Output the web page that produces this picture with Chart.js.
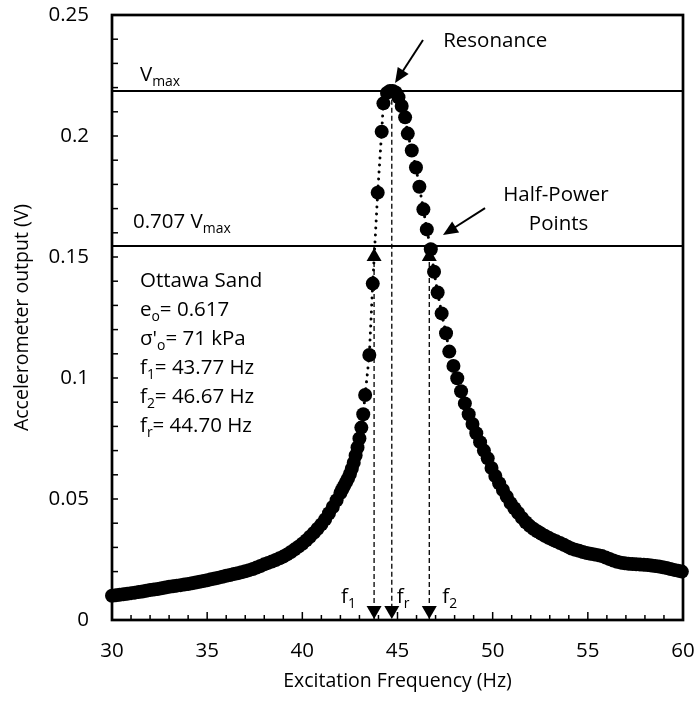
<!DOCTYPE html>
<html lang="en">
<head>
<meta charset="UTF-8">
<title>Resonant column response</title>
<script src="https://cdn.jsdelivr.net/npm/chart.js"></script>
<style>
  body { margin: 0; background: #fff; }
  #wrap { width: 696px; height: 709px; }
</style>
</head>
<body>
<div id="wrap"><canvas id="rcChart" width="696" height="709"></canvas></div>
<script>
// frequency sweep (Hz)
const freq = [
  30.0, 30.2, 30.4, 30.6, 30.8, 31.0, 31.2, 31.4, 31.6, 31.8,
  32.0, 32.2, 32.4, 32.6, 32.8, 33.0, 33.2, 33.4, 33.6, 33.8,
  34.0, 34.2, 34.4, 34.6, 34.8, 35.0, 35.2, 35.4, 35.6, 35.8,
  36.0, 36.2, 36.4, 36.6, 36.8, 37.0, 37.2, 37.4, 37.6, 37.8,
  38.0, 38.2, 38.4, 38.6, 38.8, 39.0, 39.2, 39.4, 39.6, 39.8,
  40.0, 40.2, 40.4, 40.6, 40.8, 41.0, 41.2, 41.4, 41.6, 41.8,
  42.0, 42.1, 42.2, 42.3, 42.4, 42.5, 42.6, 42.7, 42.8, 42.9,
  43.0, 43.1, 43.2, 43.3, 43.52, 43.70,
  43.96, 44.17, 44.26, 44.45, 44.60, 44.75, 44.90, 45.05, 45.22, 45.40,
  45.54, 45.75, 45.97, 46.15, 46.36, 46.54, 46.75, 46.92, 47.11, 47.32,
  47.55, 47.72, 47.94, 48.14, 48.34, 48.54, 48.74, 48.94, 49.14, 49.34,
  49.54, 49.74, 49.94, 50.14, 50.34, 50.54, 50.74, 50.94, 51.14, 51.34,
  51.54, 51.74, 51.94, 52.14, 52.34, 52.54, 52.74, 52.94, 53.14, 53.34,
  53.54, 53.74, 53.94, 54.14, 54.34, 54.54, 54.74, 54.94, 55.14, 55.34,
  55.54, 55.74, 55.94, 56.14, 56.34, 56.54, 56.74, 56.94, 57.14, 57.34,
  57.54, 57.74, 57.94, 58.14, 58.34, 58.54, 58.74, 58.94, 59.14, 59.34,
  59.54, 59.74, 59.94
];
// accelerometer output (V)
const accel = [
  0.0100, 0.0102, 0.0104, 0.0106, 0.0108, 0.0111, 0.0113, 0.0116, 0.0118, 0.0121,
  0.0124, 0.0126, 0.0128, 0.0131, 0.0134, 0.0137, 0.0139, 0.0142, 0.0144, 0.0147,
  0.0149, 0.0152, 0.0155, 0.0158, 0.0161, 0.0164, 0.0168, 0.0171, 0.0175, 0.0179,
  0.0183, 0.0186, 0.0190, 0.0193, 0.0197, 0.0201, 0.0206, 0.0211, 0.0217, 0.0223,
  0.0230, 0.0236, 0.0242, 0.0248, 0.0255, 0.0262, 0.0271, 0.0281, 0.0292, 0.0303,
  0.0315, 0.0329, 0.0344, 0.0360, 0.0377, 0.0395, 0.0416, 0.0441, 0.0467, 0.0495,
  0.0525, 0.0540, 0.0555, 0.0570, 0.0585, 0.0603, 0.0625, 0.0650, 0.0680, 0.0713,
  0.0750, 0.0795, 0.0850, 0.0930, 0.1095, 0.1390,
  0.1766, 0.2018, 0.2135, 0.2178, 0.2186, 0.2186, 0.2180, 0.2160, 0.2124, 0.2077,
  0.2010, 0.1940, 0.1870, 0.1790, 0.1697, 0.1614, 0.1532, 0.1439, 0.1353, 0.1267,
  0.1185, 0.1109, 0.1050, 0.0999, 0.0945, 0.0895, 0.0850, 0.0810, 0.0772, 0.0735,
  0.0700, 0.0668, 0.0628, 0.0595, 0.0565, 0.0537, 0.0510, 0.0483, 0.0462, 0.0442,
  0.0422, 0.0404, 0.0389, 0.0377, 0.0367, 0.0357, 0.0348, 0.0340, 0.0332, 0.0325,
  0.0318, 0.0311, 0.0303, 0.0295, 0.0290, 0.0286, 0.0281, 0.0277, 0.0274, 0.0271,
  0.0268, 0.0264, 0.0258, 0.0252, 0.0246, 0.0241, 0.0237, 0.0234, 0.0232, 0.0231,
  0.0230, 0.0229, 0.0228, 0.0227, 0.0225, 0.0223, 0.0221, 0.0218, 0.0215, 0.0211,
  0.0207, 0.0204, 0.0200
];

// Vmax and 0.707 Vmax
const refLevels = [0.2186, 0.1545];
// f1, fr, f2 and where each drop line starts
const markFreqs = [43.77, 44.70, 46.67];
const markSubs = ['1', 'r', '2'];
const markTops = [0.1545, 0.2150, 0.1545];

const noteLines = [
  [['Ottawa Sand']],
  [['e'], ['o', 1], ['= 0.617']],
  [['σ\''], ['o', 1], ['= 71 kPa']],
  [['f'], ['1', 1], ['= 43.77 Hz']],
  [['f'], ['2', 1], ['= 46.67 Hz']],
  [['f'], ['r', 1], ['= 44.70 Hz']]
];

const FAMILY = '"Open Sans", sans-serif';
const TXT = 20.5;

function richText(ctx, x, y, parts, size) {
  let cx = x;
  for (const [txt, sub] of parts) {
    const s = sub ? size * 0.68 : size;
    ctx.font = s + 'px ' + FAMILY;
    ctx.fillText(txt, cx, sub ? y + size * 0.24 : y);
    cx += ctx.measureText(txt).width;
  }
}

function arrow(ctx, x0, y0, x1, y1) {
  const a = Math.atan2(y1 - y0, x1 - x0);
  const len = 15, hw = 6.5;
  ctx.lineWidth = 2;
  ctx.beginPath();
  ctx.moveTo(x0, y0);
  ctx.lineTo(x1 - Math.cos(a) * len * 0.8, y1 - Math.sin(a) * len * 0.8);
  ctx.stroke();
  ctx.beginPath();
  ctx.moveTo(x1, y1);
  ctx.lineTo(x1 - Math.cos(a) * len - Math.sin(a) * hw, y1 - Math.sin(a) * len + Math.cos(a) * hw);
  ctx.lineTo(x1 - Math.cos(a) * len + Math.sin(a) * hw, y1 - Math.sin(a) * len - Math.cos(a) * hw);
  ctx.closePath();
  ctx.fill();
}

function tri(ctx, x, yTip, up) {
  const w = 7.5, h = 13;
  ctx.beginPath();
  ctx.moveTo(x, yTip);
  ctx.lineTo(x - w, up ? yTip + h : yTip - h);
  ctx.lineTo(x + w, up ? yTip + h : yTip - h);
  ctx.closePath();
  ctx.fill();
}

// fixed box sizes so the plot frame lands where it should
function fixBox(size) {
  return s => {
    if (s.isHorizontal()) s.height = size; else s.width = size;
    s.paddingTop = s.paddingBottom = s.paddingLeft = s.paddingRight = 0;
  };
}

const decor = {
  id: 'decor',
  beforeDatasetsDraw(chart) {
    const {ctx, chartArea: ca, scales: {x, y}} = chart;
    ctx.save();
    ctx.strokeStyle = '#000';
    // Vmax and half-power levels
    ctx.lineWidth = 2;
    refLevels.forEach(v => {
      const py = y.getPixelForValue(v);
      ctx.beginPath();
      ctx.moveTo(ca.left, py);
      ctx.lineTo(ca.right, py);
      ctx.stroke();
    });
    // dashed drop lines to the frequency axis
    ctx.lineWidth = 1.3;
    ctx.setLineDash([5, 3]);
    markFreqs.forEach((f, i) => {
      const px = x.getPixelForValue(f);
      ctx.beginPath();
      ctx.moveTo(px, y.getPixelForValue(markTops[i]));
      ctx.lineTo(px, y.getPixelForValue(0));
      ctx.stroke();
    });
    ctx.restore();
  },
  afterDatasetsDraw(chart) {
    const {ctx, chartArea: ca, scales: {x, y}} = chart;
    ctx.save();
    ctx.strokeStyle = '#000';
    ctx.fillStyle = '#000';

    // plot frame
    ctx.lineWidth = 2.7;
    ctx.strokeRect(ca.left, ca.top, ca.right - ca.left, ca.bottom - ca.top);

    // inward tick marks
    ctx.lineWidth = 1.5;
    x.ticks.forEach(t => {
      const px = x.getPixelForValue(t.value);
      const len = t.value % 5 === 0 ? 8 : 5;
      ctx.beginPath();
      ctx.moveTo(px, ca.bottom);
      ctx.lineTo(px, ca.bottom - len);
      ctx.stroke();
    });
    y.ticks.forEach(t => {
      const py = y.getPixelForValue(t.value);
      ctx.beginPath();
      ctx.moveTo(ca.left, py);
      ctx.lineTo(ca.left + 6, py);
      ctx.stroke();
    });

    // arrowheads on the drop lines
    const y0 = y.getPixelForValue(0);
    markFreqs.forEach((f, i) => {
      const px = x.getPixelForValue(f);
      tri(ctx, px, y0 - 1, false);
      if (markSubs[i] !== 'r') tri(ctx, px, y.getPixelForValue(refLevels[1]) + 2, true);
    });

    // f labels next to the arrowheads
    ctx.textBaseline = 'alphabetic';
    const labelShift = [-33, 5, 13];
    markFreqs.forEach((f, i) => {
      richText(ctx, x.getPixelForValue(f) + labelShift[i], y0 - 17, [['f'], [markSubs[i], 1]], TXT);
    });

    // level labels
    richText(ctx, x.getPixelForValue(31.47), y.getPixelForValue(0.2226), [['V'], ['max', 1]], TXT);
    richText(ctx, x.getPixelForValue(31.1), y.getPixelForValue(0.1620), [['0.707 V'], ['max', 1]], TXT);

    // callouts
    richText(ctx, x.getPixelForValue(47.4), y.getPixelForValue(0.2368), [['Resonance']], TXT);
    arrow(ctx, x.getPixelForValue(46.34), y.getPixelForValue(0.2397),
      x.getPixelForValue(44.87), y.getPixelForValue(0.2219));
    richText(ctx, x.getPixelForValue(50.55), y.getPixelForValue(0.1731), [['Half-Power']], TXT);
    richText(ctx, x.getPixelForValue(51.9), y.getPixelForValue(0.1731) + 29, [['Points']], TXT);
    arrow(ctx, x.getPixelForValue(49.6), y.getPixelForValue(0.1702),
      x.getPixelForValue(47.39), y.getPixelForValue(0.1591));

    // test conditions
    const bx = x.getPixelForValue(31.47);
    const by = y.getPixelForValue(0.1376);
    noteLines.forEach((parts, i) => richText(ctx, bx, by + i * 29, parts, TXT));

    ctx.restore();
  }
};

new Chart(document.getElementById('rcChart'), {
  type: 'scatter',
  data: {
    datasets: [{
      data: freq.map((f, i) => ({x: f, y: accel[i]})),
      showLine: true,
      borderColor: '#000',
      borderWidth: 3,
      borderDash: [0.01, 7],
      borderCapStyle: 'round',
      backgroundColor: '#000',
      pointBackgroundColor: '#000',
      pointBorderWidth: 0,
      pointRadius: 7,
      pointHoverRadius: 7,
      tension: 0,
      clip: false
    }]
  },
  options: {
    responsive: false,
    animation: false,
    events: [],
    layout: { padding: { left: 0, right: 13, top: 15, bottom: 0 } },
    plugins: { legend: { display: false }, tooltip: { enabled: false } },
    scales: {
      x: {
        type: 'linear',
        min: 30, max: 60,
        afterFit: fixBox(89),
        grid: { display: false, drawTicks: false },
        border: { display: false },
        ticks: {
          stepSize: 1,
          autoSkip: false,
          maxRotation: 0,
          padding: 19,
          color: '#000',
          font: { family: FAMILY, size: 20.5 },
          callback: v => (v % 5 === 0 ? String(v) : '')
        },
        title: {
          display: true,
          text: 'Excitation Frequency (Hz)',
          color: '#000',
          font: { family: FAMILY, size: 19.5 },
          padding: { top: 0, bottom: 16 }
        }
      },
      y: {
        min: 0, max: 0.25,
        afterFit: fixBox(112),
        grid: { display: false, drawTicks: false },
        border: { display: false },
        ticks: {
          stepSize: 0.01,
          autoSkip: false,
          padding: 23,
          color: '#000',
          font: { family: FAMILY, size: 20.5 },
          callback: v => {
            const k = Math.round(v * 100);
            return k % 5 === 0 ? String(k / 100) : '';
          }
        },
        title: {
          display: true,
          text: 'Accelerometer output (V)',
          color: '#000',
          font: { family: FAMILY, size: 19.5 },
          padding: { top: 11, bottom: 0 }
        }
      }
    }
  },
  plugins: [decor]
});
</script>
</body>
</html>
